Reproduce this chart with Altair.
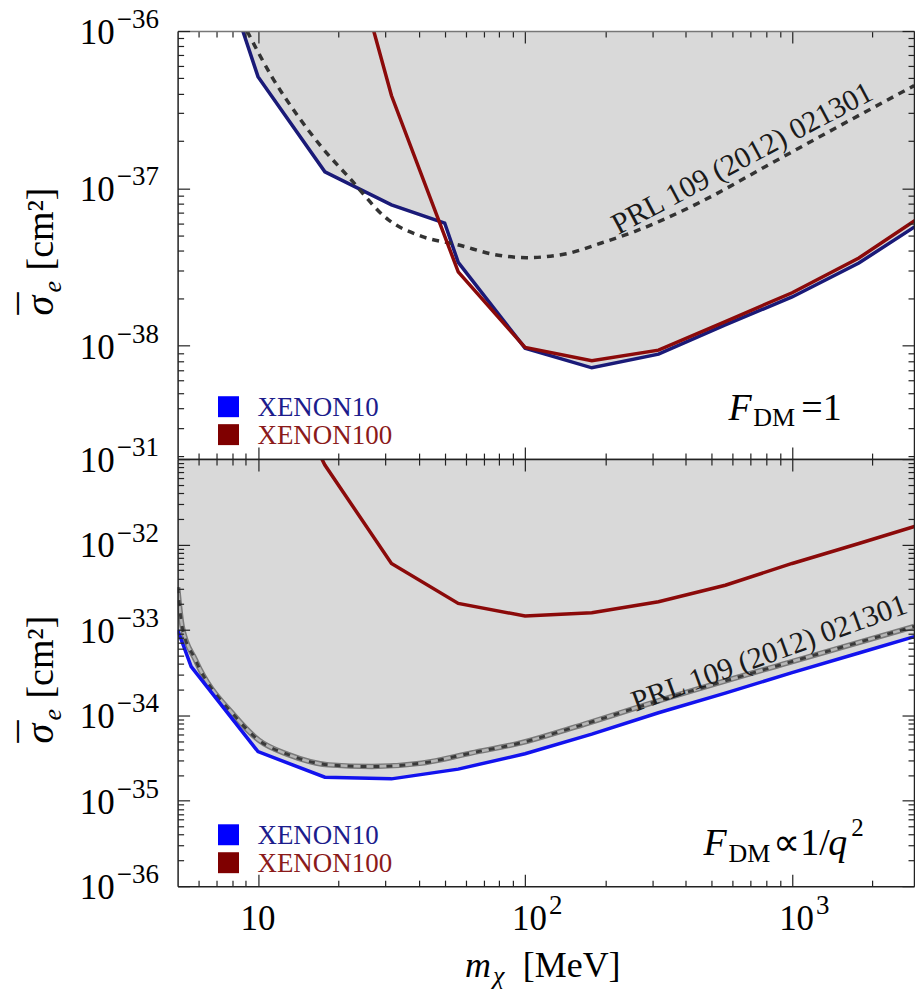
import altair as alt
import pandas as pd

FONT = "Liberation Serif"

# ---------------- values ----------------
# dark-matter mass m_chi in MeV ; cross-sections given as log10(sigma_e / cm^2)

# upper panel, F_DM = 1
top_xe10_m = [8.35, 10, 17.8, 31.6, 50, 56.2, 100, 177.8, 316, 562, 1000, 1778, 3162]
top_xe10_lg = [-35.89, -36.29, -36.895, -37.105, -37.22, -37.47, -38.015, -38.14,
               -38.053, -37.867, -37.69, -37.474, -37.199]
top_xe100_m = [17.8, 31.6, 56.2, 100, 177.8, 316, 562, 1000, 1778, 3162]
top_xe100_lg = [-34.87, -36.41, -37.53, -38.01, -38.095, -38.028, -37.846, -37.663,
                -37.442, -37.159]
top_prl_m = [9.1, 11.3, 14.2, 17.3, 21.8, 30.8, 41.0, 55.9, 79.4, 101, 141, 193,
             257, 457, 811, 1439, 2864]
top_prl_lg = [-36.0, -36.294, -36.547, -36.737, -36.926, -37.2, -37.305, -37.358,
              -37.425, -37.44, -37.417, -37.347, -37.274, -37.084, -36.853, -36.621,
              -36.347]

# lower panel, F_DM ∝ 1/q^2
bot_xe10_m = [5, 5.62, 10, 17.8, 31.6, 56.2, 100, 177.8, 316, 562, 1000, 1778, 3162]
bot_xe10_lg = [-33.0, -33.43, -34.425, -34.725, -34.744, -34.63, -34.45, -34.22,
               -33.97, -33.74, -33.50, -33.27, -33.04]
bot_xe100_m = [10, 17.8, 31.6, 56.2, 100, 177.8, 316, 562, 1000, 1778, 3162]
bot_xe100_lg = [-29.5, -31.07, -32.222, -32.69, -32.837, -32.80, -32.67, -32.477,
                -32.222, -31.988, -31.75]
bot_prl_m = [5.0, 5.2, 5.83, 8.22, 10.06, 13.0, 18.4, 26.7, 41.0, 63.1, 97.1,
             149, 316, 1000, 2865]
bot_prl_lg = [-32.5, -32.96, -33.35, -34.015, -34.29, -34.46, -34.58, -34.6, -34.56,
              -34.44, -34.32, -34.15, -33.83, -33.37, -32.96]

# tick labels
top_ylab_v = [1e-36, 1e-37, 1e-38]
top_ylab_e = ["\u221236", "\u221237", "\u221238"]
bot_ylab_v = [1e-31, 1e-32, 1e-33, 1e-34, 1e-35, 1e-36]
bot_ylab_e = ["\u221231", "\u221232", "\u221233", "\u221234", "\u221235", "\u221236"]
xlab_v = [10, 100, 1000]
xlab_e = ["", "2", "3"]
legend_names = ["XENON10", "XENON100"]
prl_text = "PRL 109 (2012) 021301"

# ---------------- helpers ----------------
W, H_TOP, H_BOT = 738, 429, 428
X_DOM = [5, 2860]
TOP_DOM = [10 ** -38.72, 1e-36]
BOT_DOM = [1e-36, 1e-31]

xs = alt.Scale(type="log", domain=X_DOM, nice=False)
ys_top = alt.Scale(type="log", domain=TOP_DOM, nice=False)
ys_bot = alt.Scale(type="log", domain=BOT_DOM, nice=False)

x_ticks = [6, 7, 8, 9, 10, 20, 30, 40, 50, 60, 70, 80, 90,
           100, 200, 300, 400, 500, 600, 700, 800, 900, 1000, 2000]


def decade_ticks(lo_exp, hi_exp, dom):
    vals = [k * 10.0 ** e for e in range(lo_exp, hi_exp) for k in range(1, 10)]
    vals.append(10.0 ** hi_exp)
    return [v for v in vals if dom[0] * 0.999 <= v <= dom[1] * 1.001]


yt_top = decade_ticks(-39, -36, TOP_DOM)
yt_bot = decade_ticks(-36, -31, BOT_DOM)

TICK_EXPR = ("abs(log(datum.value)/LN10 - round(log(datum.value)/LN10)) < 0.001"
             " ? -12 : -6")


def ax(orient, values, color="#222"):
    return alt.Axis(orient=orient, values=values, labels=False, title=None,
                    grid=False, domain=True, domainColor=color, domainWidth=1.5,
                    tickColor="#222", tickWidth=1.2, tickSize={"expr": TICK_EXPR},
                    zindex=1)


def frame(m, lg):
    return pd.DataFrame({"m": m, "s": [10.0 ** v for v in lg]})


ONE = pd.DataFrame({"k": [0]})


def txt(s, x, y, size, color="black", style="normal", align="left",
        baseline="alphabetic", angle=0):
    return alt.Chart(ONE).mark_text(
        text=s, align=align, baseline=baseline, font=FONT, fontSize=size,
        fontStyle=style, color=color, angle=angle
    ).encode(x=alt.value(x), y=alt.value(y))


def square(x, y, color):
    return alt.Chart(ONE).mark_point(shape="square", filled=True, size=441,
                                     color=color, opacity=1).encode(
        x=alt.value(x), y=alt.value(y))


def line(df, ys, color, width, dash=None, interp="linear", xaxis=None, yaxis=None):
    kw = dict(color=color, strokeWidth=width, clip=True, interpolate=interp)
    if dash:
        kw["strokeDash"] = dash
    return alt.Chart(df).mark_line(**kw).encode(
        x=alt.X("m:Q", scale=xs, axis=xaxis),
        y=alt.Y("s:Q", scale=ys, axis=yaxis))


def area(df, ys, top, xt, yt):
    return alt.Chart(df).mark_area(color="#d9d9d9", opacity=1, clip=True).encode(
        x=alt.X("m:Q", scale=xs, axis=ax("bottom", xt)),
        y=alt.Y("s:Q", scale=ys, axis=ax("left", yt)),
        y2=alt.datum(top))


def ylabels(vals, exps, ys):
    df = pd.DataFrame({"v": vals, "e": exps})
    base = alt.Chart(df).mark_text(align="right", baseline="alphabetic", font=FONT,
                                   fontSize=35, dy=13, color="black").encode(
        x=alt.value(-63), y=alt.Y("v:Q", scale=ys, axis=None), text=alt.value("10"))
    sup = alt.Chart(df).mark_text(align="left", baseline="alphabetic", font=FONT,
                                  fontSize=27, dy=-3, color="black").encode(
        x=alt.value(-61), y=alt.Y("v:Q", scale=ys, axis=None), text="e:N")
    return [base, sup]


def ytitle():
    return [
        txt("\u03c3", -125, 285, 40, style="italic", angle=270),
        txt("\u00af", -127, 284, 44, angle=270),
        txt("e", -117, 262, 26, style="italic", angle=270),
        txt("[cm\u00b2]", -125, 240, 38, angle=270),
    ]


def legend():
    return [
        square(51, 376.5, "#0000ff"),
        square(51, 404.5, "#7f0000"),
        txt(legend_names[0], 80, 386, 27, color="#1c1c8c"),
        txt(legend_names[1], 80, 414, 27, color="#8b1a1a"),
    ]


# ---------------- upper panel ----------------
t_x10 = frame(top_xe10_m, top_xe10_lg)
t_x100 = frame(top_xe100_m, top_xe100_lg)
t_prl = frame(top_prl_m, top_prl_lg)

top_layers = [
    area(t_x10, ys_top, TOP_DOM[1], x_ticks, yt_top),
    line(t_x10, ys_top, "#1a1a78", 3.5, xaxis=ax("top", x_ticks, "#777"),
         yaxis=ax("right", yt_top)),
    line(t_prl, ys_top, "#333333", 3.5, dash=[7, 6], interp="monotone"),
    line(t_x100, ys_top, "#8b0a0a", 3.5),
    txt(prl_text, 566, 128, 30, color="#1a1a1a", align="center", baseline="middle", angle=332),
    txt("F", 552, 390, 38, style="italic"),
    txt("DM", 577, 396, 26),
    txt("=1", 625, 390, 38),
] + ylabels(top_ylab_v, top_ylab_e, ys_top) + ytitle() + legend()

top = alt.layer(*top_layers).resolve_axis(x="independent", y="independent").properties(
    width=W, height=H_TOP)

# ---------------- lower panel ----------------
b_x10 = frame(bot_xe10_m, bot_xe10_lg)
b_x100 = frame(bot_xe100_m, bot_xe100_lg)
b_prl = frame(bot_prl_m, bot_prl_lg)

xl = pd.DataFrame({"v": xlab_v, "e": xlab_e})
xl_one = xl[xl["e"] == ""]
xl_pow = xl[xl["e"] != ""]

xlab_layers = [
    alt.Chart(xl_one).mark_text(align="center", baseline="alphabetic", font=FONT,
                                fontSize=35, color="black").encode(
        x=alt.X("v:Q", scale=xs, axis=None), y=alt.value(H_BOT + 44), text=alt.value("10")),
    alt.Chart(xl_pow).mark_text(align="right", baseline="alphabetic", font=FONT,
                                fontSize=35, dx=22, color="black").encode(
        x=alt.X("v:Q", scale=xs, axis=None), y=alt.value(H_BOT + 44), text=alt.value("10")),
    alt.Chart(xl_pow).mark_text(align="left", baseline="alphabetic", font=FONT,
                                fontSize=27, dx=24, color="black").encode(
        x=alt.X("v:Q", scale=xs, axis=None), y=alt.value(H_BOT + 28), text="e:N"),
]

bot_layers = [
    area(b_x10, ys_bot, BOT_DOM[1], x_ticks, yt_bot),
    line(b_x100, ys_bot, "#8b0a0a", 3.5, xaxis=ax("top", x_ticks), yaxis=ax("right", yt_bot)),
    line(b_prl, ys_bot, "#7a7a7a", 5.5, interp="monotone"),
    line(b_prl, ys_bot, "#b5b5b5", 2.5, interp="monotone"),
    line(b_prl, ys_bot, "#3a3a3a", 3, dash=[6, 7], interp="monotone"),
    line(b_x10, ys_bot, "#1212ee", 3.5),
    txt(prl_text, 593, 195, 30, color="#1a1a1a", align="center", baseline="middle", angle=340),
    txt("F", 527, 397, 38, style="italic"),
    txt("DM", 552, 404, 26),
    txt("\u221d1/", 597, 397, 38),
    txt("q", 652, 397, 38, style="italic"),
    txt("2", 675, 378, 25),
    txt("m", 288, H_BOT + 91, 36, style="italic"),
    txt("\u03c7", 316, H_BOT + 98, 26, style="italic"),
    txt("[MeV]", 346, H_BOT + 91, 36),
] + ylabels(bot_ylab_v, bot_ylab_e, ys_bot) + ytitle() + legend() + xlab_layers

bottom = alt.layer(*bot_layers).resolve_axis(x="independent", y="independent").properties(
    width=W, height=H_BOT)

chart = alt.vconcat(top, bottom, spacing=0, bounds="flush").properties(
    padding={"left": 16, "top": 5, "right": 0, "bottom": 4},
    background="white",
).configure_view(stroke=None)

chart.save("out.html", embed_options={"renderer": "svg", "actions": False})
